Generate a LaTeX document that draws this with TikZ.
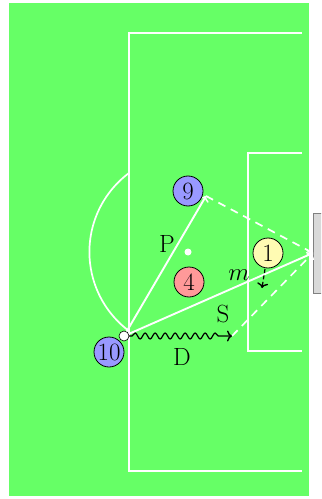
\documentclass[tikz,border=0pt]{standalone}
\usetikzlibrary{decorations.pathmorphing,arrows.meta}
\pgfdeclarelayer{bg}
\pgfdeclarelayer{arr}
\pgfsetlayers{bg,arr,main}
\begin{document}
\begin{tikzpicture}[x=1bp,y=-1bp,
  pitchline/.style={white,line width=1.4bp},
  player/.style={circle,draw=black,line width=0.8bp,minimum size=30bp,inner sep=0pt,font=\fontsize{25}{29}\selectfont},
  lbl/.style={font=\fontsize{25}{29}\selectfont,inner sep=0pt},
  tip/.style={-{To[length=5bp,width=11bp,line width=1.4bp]}},
  pass/.style={white,line width=1.9bp,tip},
  dsh/.style={white,line width=1.7bp,dash pattern=on 8bp off 6bp,tip},
  ballst/.style={circle,fill=white,draw=black,line width=0.6bp,minimum size=10bp,inner sep=0pt}]
\useasboundingbox (0,0) rectangle (321,499);
\begin{pgfonlayer}{bg}
\begin{scope}
\clip (0,0) rectangle (321,499);
\fill[green!60] (9,3) rectangle (309,496);
\draw[fill=black!15,draw=black!50,line width=1bp] (313,213) rectangle (340,293);
\end{scope}
\draw[pitchline] (302,33) -- (129,33) -- (129,471) -- (302,471);
\draw[pitchline] (302,153) -- (248,153) -- (248,351) -- (302,351);
\coordinate (spot) at (188,252);
\draw[pitchline,line width=1.7bp] (spot) ++(233.3:98.6) arc[start angle=233.3,end angle=126.7,radius=98.6];
\fill[white] (spot) circle[radius=3.5];
\end{pgfonlayer}
% players
\node[player,fill=blue!40] (p10) at (109,352) {10};
\node[player,fill=blue!40] (p9) at (188,191) {9};
\node[player,fill=red!40] (p4) at (189,282) {4};
\node[player,fill=yellow!30] (p1) at (268,253) {1};
\node[ballst] (ball) at (124,336) {};
% coordinates
\coordinate (goal) at (313,253);
\coordinate (pass9) at (206,196);
\coordinate (drib) at (232,336);
\coordinate (mfrom) at (265,269);
\coordinate (mto) at (262,288);
% arrows
\begin{pgfonlayer}{arr}
\draw[pass] (ball.center) -- (pass9);
\draw[pass] (ball.center) -- (goal);
\draw[dsh] (pass9) -- (goal);
\draw[dsh] (drib) -- (goal);
\draw[black,line width=1.2bp,tip,decorate,decoration={snake,amplitude=3bp,segment length=10bp,pre length=8bp,post length=9bp}] (ball.center) -- (drib);
\draw[black,line width=1.2bp,dash pattern=on 4bp off 2.5bp,tip] (mfrom) -- (mto);
\end{pgfonlayer}
% labels
\node[lbl] (lP) at (167,244) {P};
\node[lbl] (lS) at (223,314) {S};
\node[lbl] (lD) at (182,357) {D};
\node[lbl] (lm) at (239,275) {$m$};
\end{tikzpicture}
\end{document}
